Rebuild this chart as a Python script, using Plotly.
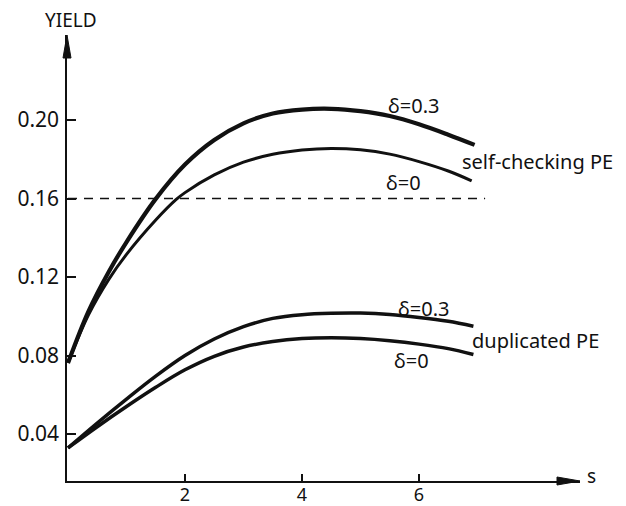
import plotly.graph_objects as go

# ---- data ----
s_self_03 = [0, 0.35, 0.7, 1.0, 1.5, 2.0, 2.5, 3.0, 3.5, 4.0, 4.5, 5.0, 5.5, 6.0, 6.5, 6.95]
y_self_03 = [0.0762, 0.1025, 0.1228, 0.1378, 0.1598, 0.1773, 0.1898, 0.1983, 0.2033, 0.2053, 0.2057, 0.2045, 0.2020, 0.1978, 0.1925, 0.1873]

s_self_0 = [0, 0.35, 0.7, 1.0, 1.5, 1.85, 2.0, 2.5, 3.0, 3.5, 4.0, 4.5, 5.0, 5.5, 6.0, 6.5, 6.9]
y_self_0 = [0.0762, 0.1007, 0.1189, 0.1315, 0.1490, 0.1595, 0.1630, 0.1720, 0.1785, 0.1825, 0.1847, 0.1855, 0.1848, 0.1826, 0.1788, 0.1740, 0.1690]

s_dup_03 = [0, 0.5, 1.0, 1.5, 2.0, 2.5, 3.0, 3.5, 4.0, 4.5, 5.0, 5.5, 6.0, 6.5, 6.93]
y_dup_03 = [0.0329, 0.0456, 0.0578, 0.0695, 0.0800, 0.0884, 0.0947, 0.0989, 0.1008, 0.1015, 0.1016, 0.1009, 0.0994, 0.0974, 0.0949]

s_dup_0 = [0, 0.5, 1.0, 1.5, 2.0, 2.5, 3.0, 3.5, 4.0, 4.5, 5.0, 5.5, 6.0, 6.5, 6.93]
y_dup_0 = [0.0329, 0.0437, 0.0540, 0.0638, 0.0727, 0.0796, 0.0843, 0.0871, 0.0886, 0.0890, 0.0886, 0.0875, 0.0858, 0.0835, 0.0805]

s_threshold = [0, 7.13]
y_threshold = [0.16, 0.16]

x_tick_vals = [2, 4, 6]
x_tick_text = ["2", "4", "6"]
y_tick_vals = [0.04, 0.08, 0.12, 0.16, 0.20]
y_tick_text = ["0.04", "0.08", "0.12", "0.16", "0.20"]

X_RANGE = [-0.0171, 8.752]
Y_RANGE = [0.01605, 0.24331]

FONT = "Noto Sans"
INK = "#111111"

fig = go.Figure()

def curve(xs, ys, w):
    fig.add_trace(go.Scatter(x=xs, y=ys, mode="lines", line=dict(color=INK, width=w, shape="spline", smoothing=1.0),
                             showlegend=False, hoverinfo="skip"))

curve(s_self_03, y_self_03, 4.2)
curve(s_self_0, y_self_0, 3.0)
curve(s_dup_03, y_dup_03, 3.5)
curve(s_dup_0, y_dup_0, 3.5)

fig.add_trace(go.Scatter(x=s_threshold, y=y_threshold, mode="lines",
                         line=dict(color=INK, width=1.6, dash="9px,7px"), showlegend=False, hoverinfo="skip"))

# text labels on the curves
labels = [
    ("δ=0.3", 5.90, 0.2076, "center"),
    ("self-checking PE", 6.70, 0.1786, "left"),
    ("δ=0", 5.74, 0.1684, "center"),
    ("δ=0.3", 6.07, 0.1042, "center"),
    ("duplicated PE", 6.87, 0.0874, "left"),
    ("δ=0", 5.88, 0.0772, "center"),
]
for txt, xx, yy, anchor in labels:
    fig.add_annotation(x=xx, y=yy, text=txt, showarrow=False, xanchor=anchor, yanchor="middle",
                       font=dict(family=FONT, size=20, color=INK))

fig.add_annotation(x=X_RANGE[1], y=Y_RANGE[0], text="s", showarrow=False, xanchor="left", yanchor="middle",
                   xshift=5, yshift=5, font=dict(family=FONT, size=19, color=INK))
fig.add_annotation(x=X_RANGE[0], y=Y_RANGE[1], text="YIELD", showarrow=False, xanchor="center", yanchor="bottom",
                   xshift=4, yshift=0, font=dict(family=FONT, size=19, color=INK))

# arrow heads at the axis ends (paper-referenced so they are not clipped)
fig.add_shape(type="path", xref="paper", yref="paper", xsizemode="pixel", ysizemode="pixel",
              xanchor=0, yanchor=1, path="M0,0 L-4,-23 L4,-23 Z",
              fillcolor=INK, line=dict(color=INK, width=1))
fig.add_shape(type="path", xref="paper", yref="paper", xsizemode="pixel", ysizemode="pixel",
              xanchor=1, yanchor=0, path="M0,0 L-23,4 L-23,-4 Z",
              fillcolor=INK, line=dict(color=INK, width=1))

fig.update_xaxes(range=X_RANGE, showgrid=False, zeroline=False, showline=True, linecolor=INK, linewidth=1.5,
                 ticks="inside", ticklen=7, tickwidth=1.5, tickcolor=INK, automargin=False,
                 tickvals=x_tick_vals, ticktext=x_tick_text, ticklabelstandoff=-3,
                 tickfont=dict(family=FONT, size=18, color=INK))
fig.update_yaxes(range=Y_RANGE, showgrid=False, zeroline=False, showline=True, linecolor=INK, linewidth=1.5,
                 ticks="inside", ticklen=9, tickwidth=1.5, tickcolor=INK, automargin=False,
                 tickvals=y_tick_vals, ticktext=y_tick_text, ticklabelstandoff=2,
                 tickfont=dict(family=FONT, size=21, color=INK))

fig.update_layout(width=626, height=506, margin=dict(l=67, r=46, t=35, b=25),
                  plot_bgcolor="white", paper_bgcolor="white", showlegend=False)

fig.write_html("out.html")
